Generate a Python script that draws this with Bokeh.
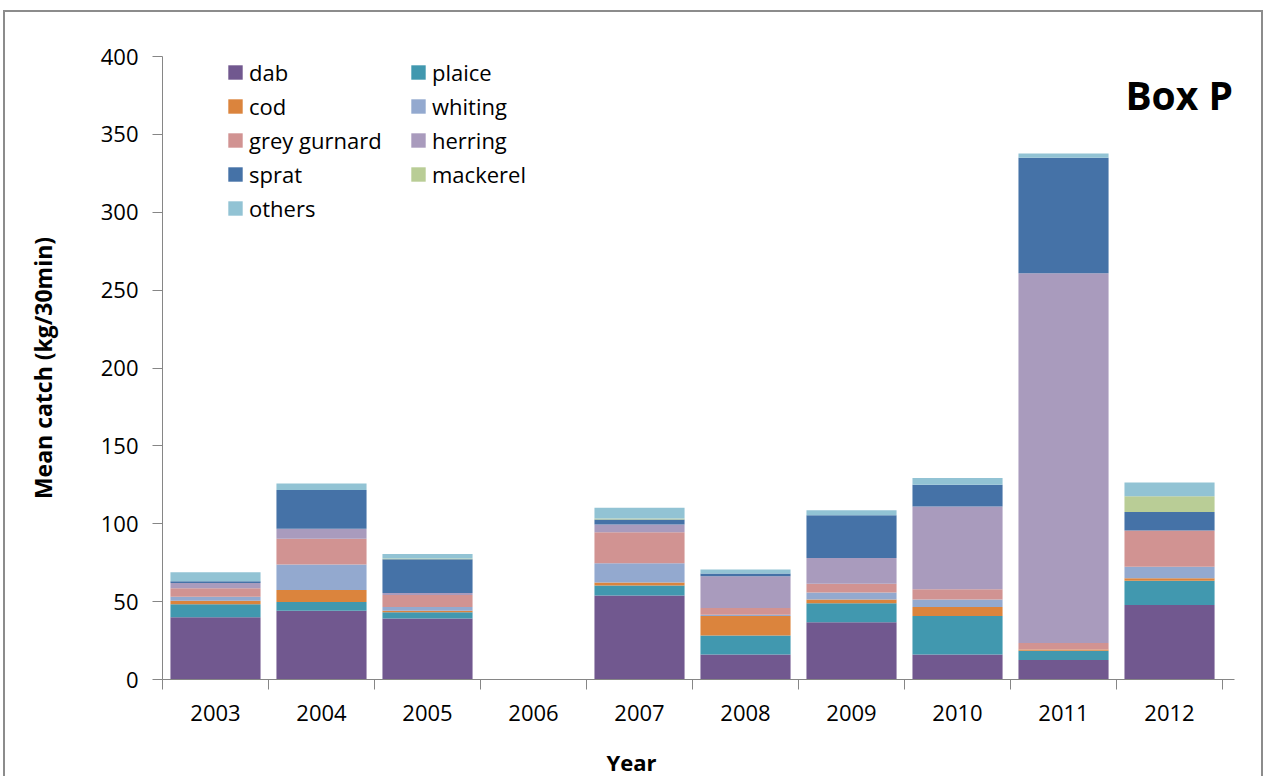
from bokeh.plotting import figure
from bokeh.models import Range1d, FixedTicker, Legend, LegendItem, Label, Title
from bokeh.embed import file_html
from bokeh.resources import INLINE

years = ["2003", "2004", "2005", "2006", "2007", "2008", "2009", "2010", "2011", "2012"]
species = ["dab", "plaice", "cod", "whiting", "grey gurnard", "herring", "sprat", "mackerel", "others"]
dab = [40.0, 44.2, 39.2, 0.0, 53.9, 16.0, 36.8, 16.0, 12.6, 47.9]
plaice = [8.3, 5.6, 3.9, 0.0, 6.4, 12.3, 12.2, 24.8, 5.8, 15.5]
cod = [2.3, 7.6, 1.1, 0.0, 2.0, 12.5, 2.4, 5.8, 0.8, 1.6]
whiting = [2.6, 16.4, 2.4, 0.0, 12.4, 0.8, 4.5, 4.7, 0.0, 7.4]
grey_gurnard = [5.4, 16.5, 7.6, 0.0, 19.8, 4.3, 5.6, 6.7, 4.3, 23.3]
herring = [3.4, 6.5, 1.3, 0.0, 5.0, 20.4, 16.5, 53.1, 237.3, 0.0]
sprat = [1.1, 24.9, 21.7, 0.0, 3.2, 1.8, 27.4, 13.9, 74.2, 11.9]
mackerel = [0.0, 0.0, 0.5, 0.0, 0.6, 0.0, 0.0, 0.0, 0.0, 10.1]
others = [5.8, 4.1, 2.9, 0.0, 6.9, 2.5, 3.2, 4.4, 2.7, 8.8]
colors = ["#71588F", "#4198AF", "#DB843D", "#93A9CF", "#D19392", "#A99BBD", "#4572A7", "#B9CD96", "#92C3D4"]
y_ticks = [0, 50, 100, 150, 200, 250, 300, 350, 400]

FONT = "Open Sans"
AXIS_COLOR = "#868686"
EDGE = "#8c8c8c"

series = [dab, plaice, cod, whiting, grey_gurnard, herring, sprat, mackerel, others]
data = {"x": [i + 0.5 for i in range(len(years))]}
for name, vals in zip(species, series):
    data[name] = vals

p = figure(width=1266, height=776, x_range=Range1d(0, len(years) + 0.113), y_range=Range1d(0, 400),
           output_backend="svg", toolbar_location=None,
           min_border_left=162, min_border_right=32, min_border_top=56, min_border_bottom=97)
p.outline_line_color = None
p.xgrid.grid_line_color = None
p.ygrid.grid_line_color = None
p.background_fill_color = "white"
p.border_fill_alpha = 0
p.styles = {
    "background": (
        f"linear-gradient({EDGE},{EDGE}) 3px 10px / 2px 900px no-repeat, "
        f"linear-gradient({EDGE},{EDGE}) 1261px 10px / 2px 900px no-repeat, "
        f"linear-gradient({EDGE},{EDGE}) 3px 10px / 1260px 2px no-repeat, "
        "#ffffff"
    )
}

renderers = p.vbar_stack(species, x="x", width=0.85, source=data, color=colors, line_color=None)

# x axis: labels at category centers, ticks at category boundaries
xa = p.xaxis[0]
xa.ticker = FixedTicker(ticks=[i + 0.5 for i in range(len(years))],
                        minor_ticks=list(range(len(years) + 1)))
xa.major_label_overrides = {i + 0.5: y for i, y in enumerate(years)}
xa.major_tick_out = 0
xa.major_tick_in = 0
xa.minor_tick_out = 10
xa.minor_tick_in = 0
xa.minor_tick_line_color = AXIS_COLOR
xa.axis_line_color = AXIS_COLOR
xa.major_label_text_font = FONT
xa.major_label_text_font_size = "22px"
xa.major_label_text_color = "black"
xa.major_label_standoff = 15

p.add_layout(Title(text="Year", align="left", offset=444, standoff=0,
                   padding=dict(top=21, right=0, bottom=0, left=0),
                   text_font=FONT, text_font_size="22px", text_font_style="bold",
                   text_color="black"), "below")

ya = p.yaxis[0]
ya.ticker = FixedTicker(ticks=y_ticks)
ya.major_tick_out = 10
ya.major_tick_in = 0
ya.minor_tick_out = 0
ya.minor_tick_in = 0
ya.major_tick_line_color = AXIS_COLOR
ya.axis_line_color = AXIS_COLOR
ya.major_label_text_font = FONT
ya.major_label_text_font_size = "22px"
ya.major_label_text_color = "black"
ya.major_label_standoff = 14
ya.axis_label = "Mean catch (kg/30min)"
ya.axis_label_text_font = FONT
ya.axis_label_text_font_size = "23px"
ya.axis_label_text_font_style = "bold"
ya.axis_label_text_color = "black"
ya.axis_label_standoff = 39

col1 = [0, 2, 4, 6, 8]
col2 = [1, 3, 5, 7]
for idxs, loc in ((col1, (64, 456)), (col2, (247, 490))):
    items = [LegendItem(label=species[i], renderers=[renderers[i]]) for i in idxs]
    leg = Legend(items=items, location=loc, padding=0, margin=0, spacing=4,
                 glyph_width=18, glyph_height=18, label_standoff=5,
                 label_text_font=FONT, label_text_font_size="22px", label_text_color="black",
                 border_line_color=None, background_fill_alpha=0)
    p.add_layout(leg)

p.add_layout(Label(x=10.098, y=375.4, text="Box P", text_align="right", text_baseline="alphabetic",
                   text_font=FONT, text_font_size="39px", text_font_style="bold", text_color="black"))

open("out.html", "w").write(file_html(p, INLINE))
